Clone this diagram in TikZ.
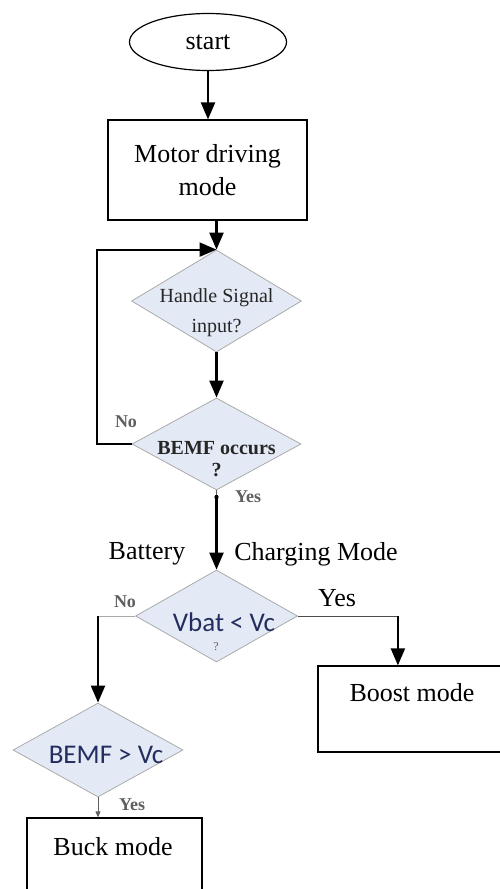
\documentclass[tikz,border=0pt]{standalone}
\usepackage{fontspec}
\setmainfont{Liberation Serif}
\newfontfamily\calibri{Carlito}
\usetikzlibrary{shapes.geometric,arrows.meta,positioning}

\definecolor{deciFill}{RGB}{228,234,245}
\definecolor{deciLine}{RGB}{170,170,170}
\definecolor{noteGray}{RGB}{95,95,95}
\definecolor{formulaBlue}{RGB}{35,45,95}

\tikzset{
  box/.style={draw,line width=1.2pt,inner sep=0pt},
  decision/.style={shape=diamond,draw=deciLine,fill=deciFill,line width=0.8pt,inner sep=0pt},
  flow/.style={line width=2.2pt,-{Triangle[length=17pt,width=14pt]}},
  thinflow/.style={draw=noteGray,line width=0.8pt,-{Triangle[length=6pt,width=5pt]}},
  note/.style={font=\fontsize{18}{20}\selectfont\bfseries,text=noteGray,inner sep=0pt},
  big/.style={font=\fontsize{26}{33}\selectfont},
  asktext/.style={align=center,inner sep=0pt,text=black!85},
  formula/.style={font=\calibri\fontsize{27}{30}\selectfont,text=formulaBlue,inner sep=0pt},
}

\begin{document}
\begin{tikzpicture}[x=1pt,y=-1pt]
\useasboundingbox (0,0) rectangle (500,889);
\clip (0,0) rectangle (500,889);

% blocks
\node[ellipse,draw,line width=1.2pt,minimum width=157pt,minimum height=57pt,big] (start) at (208,42) {start};
\node[box,minimum width=199pt,minimum height=100pt,align=center,big] (motor) at (207.5,170) {Motor driving\\mode};

\node[decision,minimum width=170pt,minimum height=102pt] (handle) at (216.5,301) {};
\node[asktext,font=\fontsize{20}{30}\selectfont] (handletxt) at (216.5,313) {Handle Signal\\input?};

\node[decision,minimum width=169pt,minimum height=92pt] (bemfocc) at (216.5,444) {};
\node[asktext,font=\fontsize{20}{22}\selectfont\bfseries] (bemfocctxt) at (216.5,459) {BEMF occurs\\?};

\node[decision,minimum width=162pt,minimum height=92pt] (vbat) at (216.5,616) {};
\node[formula] (vbattxt) at (224,622) {Vbat < Vc};
\node[text=noteGray,font=\fontsize{12}{14}\selectfont,inner sep=0pt] (vbatask) at (216,647) {?};

\node[decision,minimum width=170pt,minimum height=94pt] (bemfgt) at (98,750) {};
\node[formula] (bemfgttxt) at (106,755) {BEMF > Vc};

\node[box,minimum width=188pt,minimum height=86pt] (boost) at (412,709) {};
\node[big,inner sep=0pt] (boosttxt) at (412,693) {Boost mode};

\node[box,minimum width=175pt,minimum height=112pt] (buck) at (114.5,874) {};
\node[big,inner sep=0pt] (bucktxt) at (113,847) {Buck mode};

% labels
\node[note] (noloop) at (126,422) {No};
\node[note] (yesocc) at (248,497) {Yes};
\node[big,inner sep=0pt] (battery) at (147,554) {Battery};
\node[big,inner sep=0pt] (charging) at (316,554) {Charging Mode};
\node[note] (nobat) at (125,602) {No};
\node[big,inner sep=0pt] (yesbat) at (337,598) {Yes};
\node[note] (yesgt) at (132,805) {Yes};

% connectors
\draw[flow] (start.south) -- (start.south |- motor.north);
\draw[flow] (motor.south -| handle.north) -- (handle.north);
\draw[flow] (handle.south) -- (bemfocc.north);
\draw[flow] (bemfocc.west) -- ++(-35,0) |- (handle.north);
\draw[thinflow] (bemfocc.south) -- ++(0,12);
\draw[flow] ([yshift=-5pt]bemfocc.south) -- (vbat.north);
\draw[draw=deciLine,line width=0.8pt] (vbat.west) -- (vbat.west -| bemfgt.north) coordinate (nobend);
\draw[flow] (nobend) -- (bemfgt.north);
\draw[draw=black!70,line width=0.8pt] (vbat.east) -- ++(100,0) coordinate (yesbend);
\draw[flow] (yesbend) -- (yesbend |- boost.north);
\draw[thinflow] (bemfgt.south) -- (bemfgt.south |- buck.north);
\end{tikzpicture}
\end{document}
